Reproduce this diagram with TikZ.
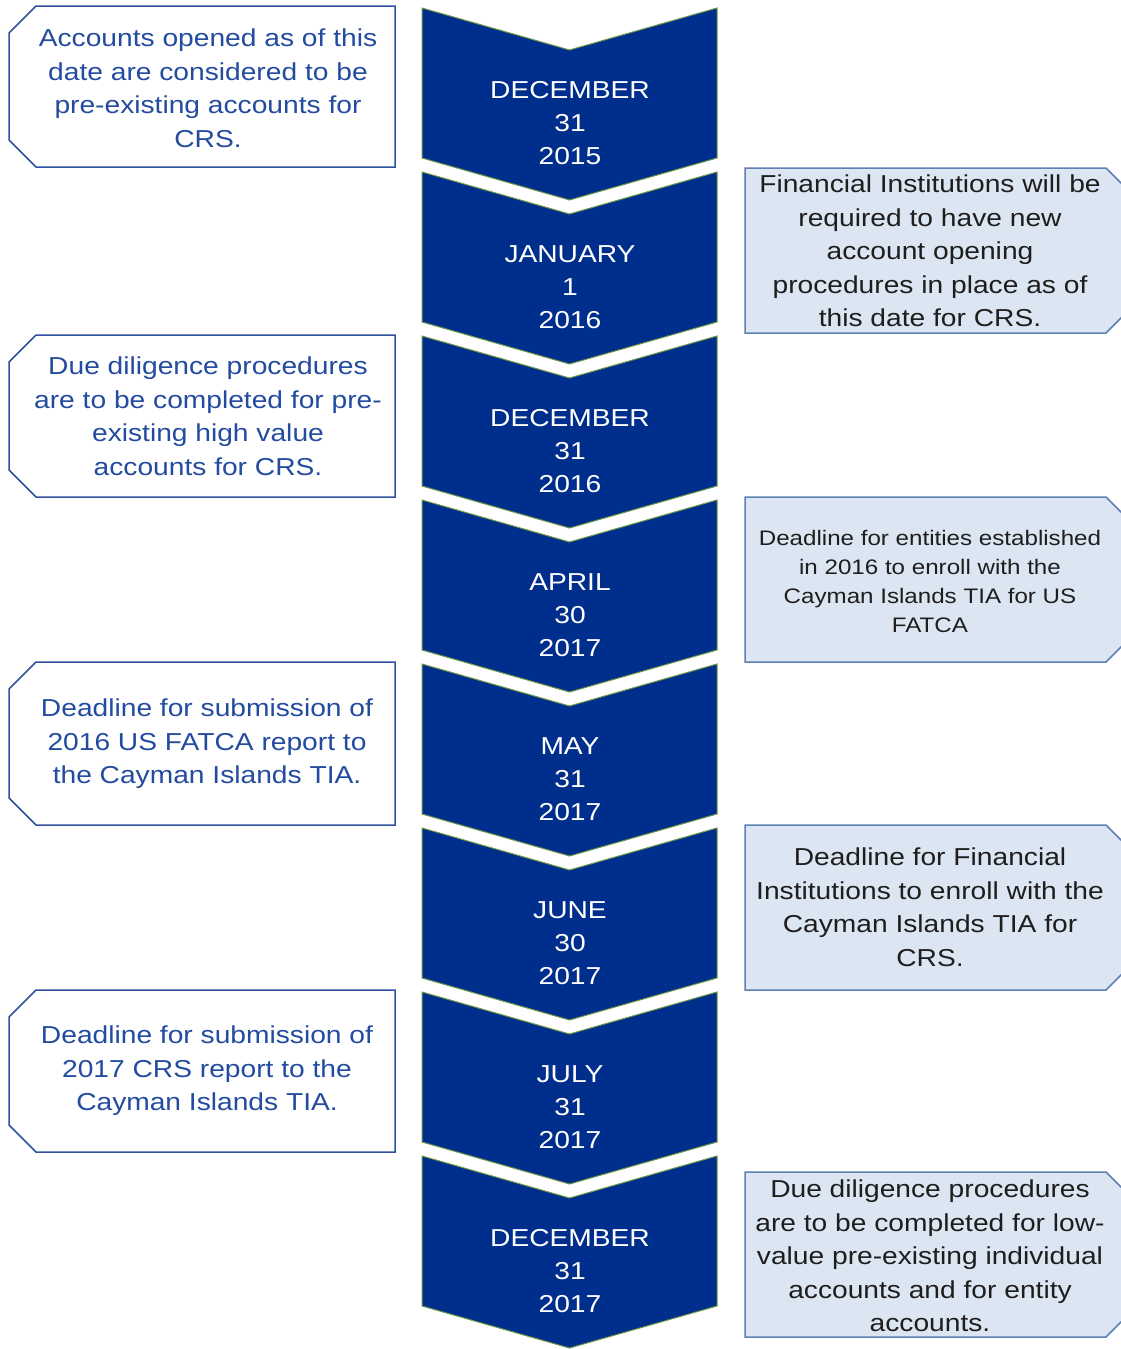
\documentclass[tikz,border=0pt]{standalone}
\usepackage{fontspec}
\setmainfont{Liberation Sans}[FakeStretch=1.15]
\definecolor{chevfill}{RGB}{0,46,140}
\definecolor{chevline}{RGB}{110,150,70}
\definecolor{lline}{RGB}{47,82,160}
\definecolor{ltxt}{RGB}{35,75,160}
\definecolor{rfill}{RGB}{220,230,242}
\definecolor{rline}{RGB}{95,128,178}
\definecolor{rtxt}{RGB}{30,30,30}
\begin{document}
\begin{tikzpicture}[x=1pt,y=-1pt,
  chevshape/.style={fill=chevfill,draw=chevline,line width=1pt,line join=miter},
  datetext/.style={text=white,align=center,font=\fontsize{24.5}{33}\selectfont,inner sep=0pt},
  lbox/.style={fill=white,draw=lline,line width=1.5pt},
  rbox/.style={fill=rfill,draw=rline,line width=1.5pt},
  ltext/.style={text=ltxt,align=center,font=\fontsize{24.5}{33.5}\selectfont,inner sep=0pt},
  rtext/.style={text=rtxt,align=center,font=\fontsize{24.5}{33.5}\selectfont,inner sep=0pt},
  rsmall/.style={rtext,font=\fontsize{21}{29}\selectfont}]
\useasboundingbox (0,0) rectangle (1121,1349);
\begin{scope}
\clip (0,0) rectangle (1121,1349);
% chevrons
\foreach \i/\mo/\dy/\yr in {0/DECEMBER/31/2015,1/JANUARY/1/2016,2/DECEMBER/31/2016,3/APRIL/30/2017,4/MAY/31/2017,5/JUNE/30/2017,6/JULY/31/2017,7/DECEMBER/31/2017}{
  \pgfmathsetmacro{\ty}{8+164*\i}
  \draw[chevshape] (422,\ty) -- (569.5,\ty+42) -- (717,\ty) -- (717,\ty+150) -- (569.5,\ty+192) -- (422,\ty+150) -- cycle;
  \node[datetext] (date\i) at (570,\ty+115) {\mo\\\dy\\\yr};
}
% left boxes
\foreach \ya/\yb in {6/167,335/497,662/825,990/1152}{
  \draw[lbox] (36,\ya) -- (395,\ya) -- (395,\yb) -- (36,\yb) -- (9,\yb-27) -- (9,\ya+27) -- cycle;
}
% right boxes
\foreach \ya/\yb in {168/333,497/662,825/990,1172/1337}{
  \draw[rbox] (745,\ya) -- (1106,\ya) -- (1133,\ya+27) -- (1133,\yb-27) -- (1106,\yb) -- (745,\yb) -- cycle;
}
\end{scope}
% left texts
\node[ltext] (l1) at (208,88) {Accounts opened as of this\\date are considered to be\\pre-existing accounts for\\CRS.};
\node[ltext] (l2) at (208,416) {Due diligence procedures\\are to be completed for pre-\\existing high value\\accounts for CRS.};
\node[ltext] (l3) at (207,744) {Deadline for submission of\\2016 US FATCA report to\\the Cayman Islands TIA.};
\node[ltext] (l4) at (207,1071) {Deadline for submission of\\2017 CRS report to the\\Cayman Islands TIA.};
% right texts
\node[rtext] (r1) at (930,251) {Financial Institutions will be\\required to have new\\account opening\\procedures in place as of\\this date for CRS.};
\node[rsmall] (r2) at (930,581) {Deadline for entities established\\in 2016 to enroll with the\\Cayman Islands TIA for US\\FATCA};
\node[rtext] (r3) at (930,907) {Deadline for Financial\\Institutions to enroll with the\\Cayman Islands TIA for\\CRS.};
\node[rtext] (r4) at (930,1256) {Due diligence procedures\\are to be completed for low-\\value pre-existing individual\\accounts and for entity\\accounts.};
\end{tikzpicture}
\end{document}
